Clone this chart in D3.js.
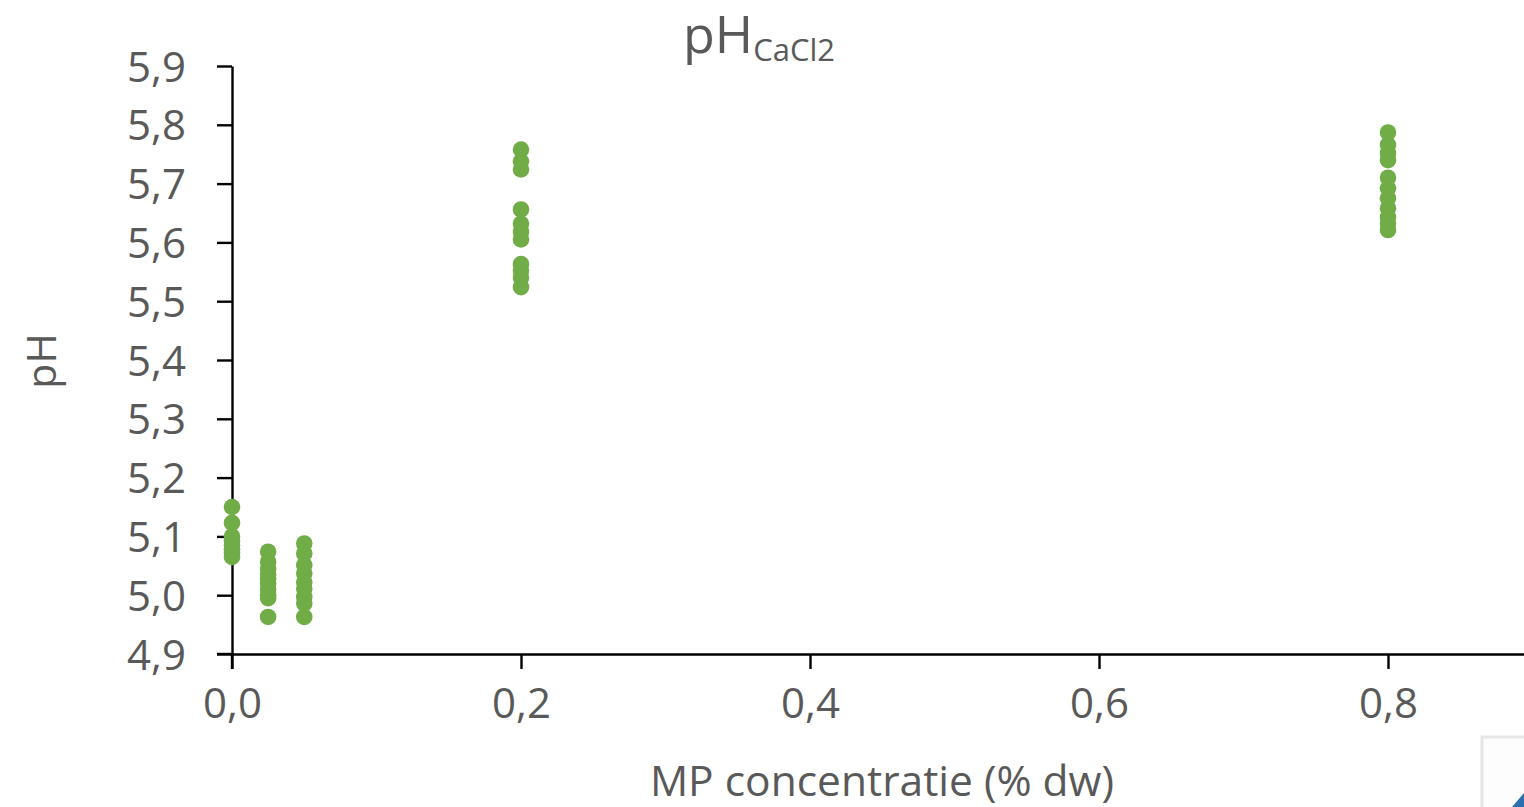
<!DOCTYPE html>
<html>
<head>
<meta charset="utf-8">
<script src="https://cdn.jsdelivr.net/npm/d3@7"></script>
<style>
  html, body { margin: 0; padding: 0; background: #fff; }
  svg { display: block; }
  text { font-family: "Open Sans", "Noto Sans", sans-serif; fill: #595959; }
</style>
</head>
<body>
<svg id="chart" width="1524" height="807"></svg>
<script>
// Measured pH (CaCl2) per microplastic concentration
const conc000 = [5.150, 5.123, 5.100, 5.092, 5.085, 5.078, 5.072, 5.065];
const conc025 = [5.074, 5.057, 5.045, 5.035, 5.028, 5.020, 5.010, 5.000, 4.995, 4.963];
const conc050 = [5.088, 5.071, 5.051, 5.037, 5.022, 5.011, 4.997, 4.986, 4.963];
const conc200 = [5.758, 5.738, 5.724, 5.656, 5.632, 5.618, 5.605, 5.563, 5.552, 5.540, 5.524];
const conc800 = [5.787, 5.766, 5.752, 5.740, 5.710, 5.692, 5.675, 5.658, 5.643, 5.632, 5.621];

const groups = [
  { x: 0.0,   values: conc000 },
  { x: 0.025, values: conc025 },
  { x: 0.05,  values: conc050 },
  { x: 0.2,   values: conc200 },
  { x: 0.8,   values: conc800 }
];

const xTicks = [0.0, 0.2, 0.4, 0.6, 0.8];
const yTicks = [4.9, 5.0, 5.1, 5.2, 5.3, 5.4, 5.5, 5.6, 5.7, 5.8, 5.9];

const points = groups.flatMap(g => g.values.map(v => ({ x: g.x, y: v })));

const svg = d3.select("#chart");
const locale = d3.formatLocale({ decimal: ",", thousands: ".", grouping: [3], currency: ["€", ""] });
const fmt = locale.format(".1f");

const x = d3.scaleLinear().domain([0, 0.9]).range([232, 1532.5]);
const y = d3.scaleLinear().domain([4.9, 5.9]).range([654, 66]);

// Y axis
const yAxis = svg.append("g")
  .attr("transform", `translate(${x(0)},0)`)
  .call(d3.axisLeft(y).tickValues(yTicks).tickFormat(fmt).tickSize(15).tickSizeOuter(0).tickPadding(31));

// X axis
const xAxis = svg.append("g")
  .attr("transform", `translate(0,${y(4.9)})`)
  .call(d3.axisBottom(x).tickValues(xTicks).tickFormat(fmt).tickSize(15).tickSizeOuter(0).tickPadding(18));

[yAxis, xAxis].forEach(ax => {
  ax.select(".domain").attr("stroke", "#000").attr("stroke-width", 2.4);
  ax.selectAll(".tick line").attr("stroke", "#000").attr("stroke-width", 2.4);
  ax.selectAll(".tick text")
    .style("font-family", "'Open Sans', sans-serif")
    .style("font-size", "42px")
    .attr("fill", "#595959");
});
yAxis.selectAll(".tick text").attr("dy", "0.36em");
xAxis.selectAll(".tick text").attr("dy", "0.74em");

// Y axis line continues under the x axis to the tick length
yAxis.append("line")
  .attr("x1", 0).attr("x2", 0)
  .attr("y1", y(4.9)).attr("y2", y(4.9) + 15)
  .attr("stroke", "#000").attr("stroke-width", 2.4);
// X axis line starts at the y tick end
xAxis.append("line")
  .attr("x1", x(0) - 15).attr("x2", x(0))
  .attr("y1", 0).attr("y2", 0)
  .attr("stroke", "#000").attr("stroke-width", 2.4);

// Data points
svg.append("g")
  .selectAll("circle")
  .data(points)
  .join("circle")
  .attr("cx", d => x(d.x))
  .attr("cy", d => y(d.y))
  .attr("r", 8.3)
  .attr("fill", "#70AD47");

// Title with subscript
const title = svg.append("text")
  .attr("x", 683)
  .attr("y", 53)
  .style("font-size", "52px");
title.append("tspan").text("pH");
title.append("tspan")
  .attr("dy", 8)
  .style("font-size", "31px")
  .text("CaCl2");

// Axis titles
svg.append("text")
  .attr("x", 882)
  .attr("y", 796)
  .attr("text-anchor", "middle")
  .style("font-size", "42.5px")
  .text("MP concentratie (% dw)");

svg.append("text")
  .attr("transform", "translate(56,361) rotate(-90)")
  .attr("text-anchor", "middle")
  .style("font-size", "41px")
  .text("pH");

// Corner of an adjacent panel
svg.append("rect")
  .attr("x", 1482).attr("y", 737)
  .attr("width", 60).attr("height", 80)
  .attr("fill", "#fdfdfd")
  .attr("stroke", "#e6e6e6")
  .attr("stroke-width", 3);
svg.append("path")
  .attr("d", "M1512,807 L1524,793 L1524,807 Z")
  .attr("fill", "#2a6fb0");
</script>
</body>
</html>
